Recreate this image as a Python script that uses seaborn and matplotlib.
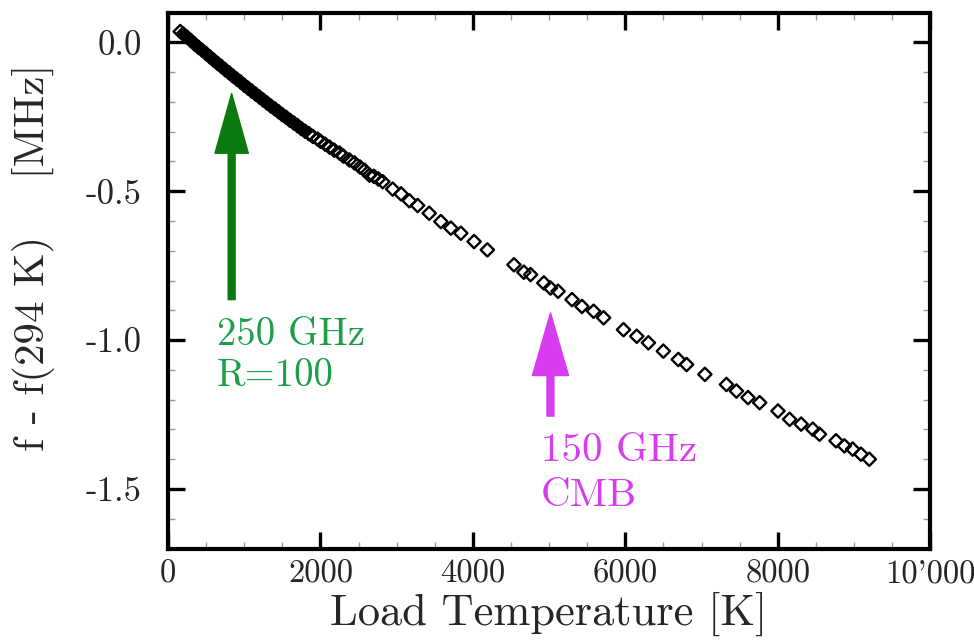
import numpy as np
import matplotlib
matplotlib.use("Agg")
import matplotlib.pyplot as plt
from matplotlib.ticker import MultipleLocator, FixedLocator
import seaborn as sns

# ── Data ──────────────────────────────────────────────────────────────────────
# dense part of the sweep (markers overlap into a solid band)
t_dense = [160, 200, 250, 300, 350, 400, 450, 500, 550, 600, 650, 700, 750,
           800, 850, 900, 950, 1000, 1050, 1100, 1150, 1200, 1250, 1300,
           1350, 1400, 1450, 1500, 1550, 1600, 1650, 1700, 1750, 1800, 1850]
df_dense = [0.036, 0.028, 0.017, 0.006, -0.006, -0.017, -0.027, -0.038,
            -0.049, -0.060, -0.071, -0.081, -0.092, -0.102, -0.113, -0.123,
            -0.133, -0.144, -0.154, -0.164, -0.174, -0.184, -0.194, -0.204,
            -0.214, -0.223, -0.233, -0.243, -0.252, -0.262, -0.271, -0.280,
            -0.290, -0.299, -0.307]

# sparser part, individual diamonds
t_sparse = [1900, 1963, 2000, 2060, 2120, 2180, 2251, 2300, 2380,
            2447, 2520, 2580, 2643, 2700, 2760, 2817, 2948, 3058, 3166,
            3275, 3427, 3580, 3711, 3842, 4016, 4190, 4539, 4669, 4757,
            4931, 5018, 5118, 5301, 5431, 5584, 5715, 5976, 6150, 6303,
            6499, 6695, 6804, 7044, 7327, 7458, 7610, 7763, 8003, 8156,
            8307, 8460, 8548, 8765, 8874, 8983, 9092, 9201]
df_sparse = [-0.316, -0.325, -0.332, -0.342, -0.352, -0.362, -0.372,
             -0.382, -0.395, -0.405, -0.419, -0.430, -0.446, -0.450, -0.459,
             -0.468, -0.493, -0.509, -0.532, -0.548, -0.574, -0.602, -0.624,
             -0.641, -0.669, -0.697, -0.747, -0.772, -0.780, -0.808, -0.825,
             -0.836, -0.864, -0.887, -0.903, -0.925, -0.965, -0.987, -1.009,
             -1.037, -1.065, -1.082, -1.115, -1.149, -1.171, -1.193, -1.210,
             -1.238, -1.266, -1.282, -1.299, -1.316, -1.338, -1.355, -1.366,
             -1.383, -1.400]

x_ticks = [0, 2000, 4000, 6000, 8000, 10000]
x_tick_labels = ["0", "2000", "4000", "6000", "8000", "10'000"]
y_ticks = [0.0, -0.5, -1.0, -1.5]
y_tick_labels = ["0.0", "-0.5", "-1.0", "-1.5"]

# ── Style ─────────────────────────────────────────────────────────────────────
sns.set_theme(style="ticks")
plt.rcParams.update({
    "font.family": ["cmr10", "DejaVu Serif"],
    "axes.unicode_minus": False,
    "axes.linewidth": 3.0,
    "axes.edgecolor": "black",
})

GREEN_ARROW = "#0b7a0e"
GREEN_TEXT = "#1c9f48"
MAGENTA = "#d83cf0"

fig = plt.figure(figsize=(9.74, 6.42), dpi=100)
ax = fig.add_axes([0.1725, 0.1455, 0.7825, 0.835])

# the low-temperature points are so dense they merge into a thick band
sns.lineplot(x=t_dense, y=df_dense, ax=ax, color="black", linewidth=7.5,
             solid_capstyle="butt", legend=False, zorder=3)
sns.scatterplot(x=t_dense + t_sparse, y=df_dense + df_sparse, ax=ax,
                marker="D", s=46, facecolor="none", edgecolor="black",
                linewidth=1.7, legend=False, zorder=4)

ax.set_xlim(0, 10000)
ax.set_ylim(-1.7, 0.1)

ax.xaxis.set_major_locator(FixedLocator(x_ticks))
ax.set_xticklabels(x_tick_labels)
ax.yaxis.set_major_locator(FixedLocator(y_ticks))
ax.set_yticklabels(y_tick_labels)
ax.xaxis.set_minor_locator(MultipleLocator(500))
ax.yaxis.set_minor_locator(MultipleLocator(0.1))

ax.tick_params(which="major", direction="in", length=12, width=2.4,
               top=True, right=True, pad=8, color="black")
ax.tick_params(which="minor", direction="in", length=5, width=1.0,
               top=True, right=True, color="#9a9a9a")
ax.tick_params(axis="x", which="major", labelsize=23.5)
ax.tick_params(axis="y", which="major", labelsize=25, pad=19)

ax.set_xlabel("Load Temperature [K]", fontsize=32, labelpad=2)
ax.set_ylabel("f - f(294 K)    [MHz]", fontsize=31)
ax.yaxis.set_label_coords(-0.148, 0.544)

# ── Annotations ───────────────────────────────────────────────────────────────
ax.annotate("", xy=(835, -0.172), xytext=(835, -0.864),
            arrowprops=dict(width=5, headwidth=24, headlength=43,
                            color=GREEN_ARROW, shrink=0))
ax.text(639, -1.015, "250 GHz", color=GREEN_TEXT, fontsize=28,
        ha="left", va="baseline")
ax.text(639, -1.154, "R=100", color=GREEN_TEXT, fontsize=28,
        ha="left", va="baseline")

ax.annotate("", xy=(5018, -0.909), xytext=(5018, -1.255),
            arrowprops=dict(width=5, headwidth=26, headlength=45,
                            color=MAGENTA, shrink=0))
ax.text(4888, -1.405, "150 GHz", color=MAGENTA, fontsize=29.5,
        ha="left", va="baseline")
ax.text(4888, -1.556, "CMB", color=MAGENTA, fontsize=29.5,
        ha="left", va="baseline")

fig.savefig("out.png", dpi=100)
